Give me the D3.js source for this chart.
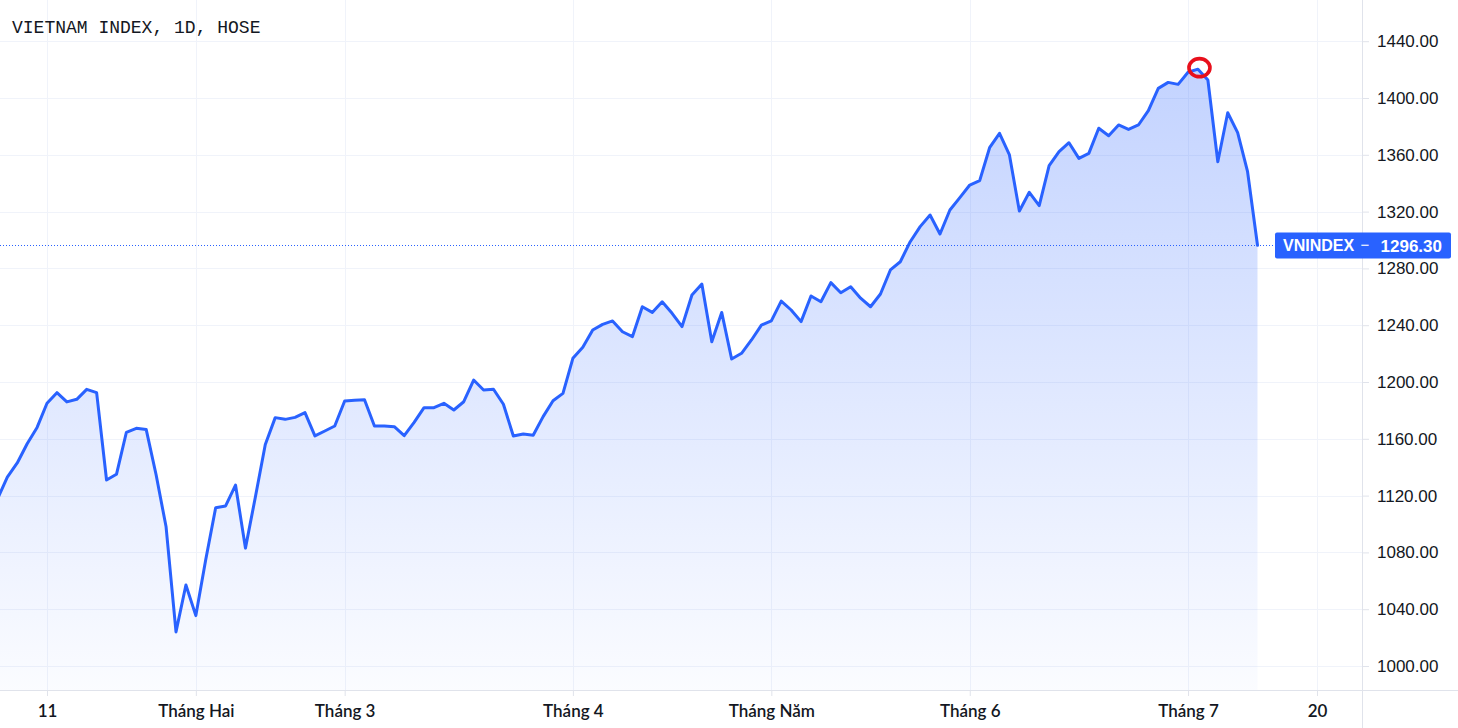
<!DOCTYPE html>
<html>
<head>
<meta charset="utf-8">
<script src="https://cdn.jsdelivr.net/npm/d3@7/dist/d3.min.js"></script>
<style>
  html, body { margin: 0; padding: 0; background: #ffffff; }
  svg { display: block; }
</style>
</head>
<body>
<svg id="chart" width="1458" height="728"></svg>
<script>
// ---- data (VN-Index daily close, 2021) ----
const dates = [
  "2021-01-04","2021-01-05","2021-01-06","2021-01-07","2021-01-08",
  "2021-01-11","2021-01-12","2021-01-13","2021-01-14","2021-01-15",
  "2021-01-18","2021-01-19","2021-01-20","2021-01-21","2021-01-22",
  "2021-01-25","2021-01-26","2021-01-27","2021-01-28","2021-01-29",
  "2021-02-01","2021-02-02","2021-02-03","2021-02-04","2021-02-05",
  "2021-02-08","2021-02-09","2021-02-17","2021-02-18","2021-02-19",
  "2021-02-22","2021-02-23","2021-02-24","2021-02-25","2021-02-26",
  "2021-03-01","2021-03-02","2021-03-03","2021-03-04","2021-03-05",
  "2021-03-08","2021-03-09","2021-03-10","2021-03-11","2021-03-12",
  "2021-03-15","2021-03-16","2021-03-17","2021-03-18","2021-03-19",
  "2021-03-22","2021-03-23","2021-03-24","2021-03-25","2021-03-26",
  "2021-03-29","2021-03-30","2021-03-31",
  "2021-04-01","2021-04-02","2021-04-05","2021-04-06","2021-04-07",
  "2021-04-08","2021-04-09","2021-04-12","2021-04-13","2021-04-14",
  "2021-04-15","2021-04-16","2021-04-19","2021-04-20","2021-04-22",
  "2021-04-23","2021-04-26","2021-04-27","2021-04-28","2021-04-29",
  "2021-05-04","2021-05-05","2021-05-06","2021-05-07","2021-05-10",
  "2021-05-11","2021-05-12","2021-05-13","2021-05-14","2021-05-17",
  "2021-05-18","2021-05-19","2021-05-20","2021-05-21","2021-05-24",
  "2021-05-25","2021-05-26","2021-05-27","2021-05-28","2021-05-31",
  "2021-06-01","2021-06-02","2021-06-03","2021-06-04","2021-06-07",
  "2021-06-08","2021-06-09","2021-06-10","2021-06-11","2021-06-14",
  "2021-06-15","2021-06-16","2021-06-17","2021-06-18","2021-06-21",
  "2021-06-22","2021-06-23","2021-06-24","2021-06-25","2021-06-28",
  "2021-06-29","2021-06-30",
  "2021-07-01","2021-07-02","2021-07-05","2021-07-06","2021-07-07",
  "2021-07-08","2021-07-09","2021-07-12"
];
const closes = [
  1117.5,1133.0,1143.0,1156.5,1168.0,
  1185.0,1192.5,1186.0,1187.8,1194.8,
  1192.5,1131.0,1135.0,1164.6,1167.4,
  1166.5,1134.5,1098.0,1024.0,1057.0,
  1035.5,1075.0,1111.5,1112.7,1127.4,
  1083.0,1119.0,1156.0,1174.9,1173.7,
  1175.1,1178.4,1162.0,1165.5,1169.0,
  1186.6,1187.1,1187.5,1169.0,1169.0,
  1168.5,1162.2,1171.6,1181.9,1181.9,
  1185.0,1180.3,1186.1,1201.4,1194.4,
  1194.9,1184.3,1162.0,1163.4,1162.5,
  1175.6,1186.8,1192.0,
  1216.7,1224.4,1236.6,1240.6,1243.0,
  1235.4,1231.9,1253.0,1249.0,1256.5,
  1248.4,1239.0,1261.3,1269.0,1228.4,
  1249.0,1216.2,1220.2,1229.6,1240.1,
  1243.0,1257.0,1250.7,1242.5,1260.6,
  1256.5,1270.0,1262.9,1267.1,1259.0,
  1253.0,1262.0,1278.9,1284.7,1298.8,
  1309.4,1317.6,1304.2,1321.1,1329.8,
  1338.7,1341.8,1365.0,1375.1,1359.9,
  1320.4,1333.6,1324.2,1352.3,1362.2,
  1368.5,1357.5,1361.0,1378.7,1373.4,
  1381.0,1377.9,1381.0,1391.1,1406.8,
  1411.0,1409.6,
  1418.1,1420.3,1412.7,1355.1,1389.6,
  1375.6,1348.1,1296.3
];
const xTickIndex  = [5, 20, 35, 58, 78, 98, 120, 133];
const xTickLabels = ["11", "Tháng Hai", "Tháng 3", "Tháng 4", "Tháng Năm", "Tháng 6", "Tháng 7", "20"];
const yTicks = [1000, 1040, 1080, 1120, 1160, 1200, 1240, 1280, 1320, 1360, 1400, 1440];
const title = "VIETNAM INDEX, 1D, HOSE";
const symbol = "VNINDEX";
const lastValue = closes[closes.length - 1];
const markedIndex = 121; // peak circled in red

// ---- layout ----
const W = 1458, H = 728;
const plotRight = 1362, plotBottom = 690;
const stepPx = 9.922;
const x0 = -2.6;

const svg = d3.select("#chart");
const x = d3.scaleLinear().domain([0, 1]).range([x0, x0 + stepPx]);
const y = d3.scaleLinear().domain([1000, 1440]).range([666, 41.2]);

const data = closes.map((v, i) => ({ i, date: dates[i], v }));

const defs = svg.append("defs");
defs.append("clipPath").attr("id", "plotClip")
  .append("rect").attr("x", 0).attr("y", 0).attr("width", plotRight).attr("height", plotBottom);
const grad = defs.append("linearGradient").attr("id", "areaGrad")
  .attr("gradientUnits", "userSpaceOnUse")
  .attr("x1", 0).attr("x2", 0)
  .attr("y1", y(d3.max(closes))).attr("y2", plotBottom);
grad.append("stop").attr("offset", "0%").attr("stop-color", "#2962ff").attr("stop-opacity", 0.28);
grad.append("stop").attr("offset", "100%").attr("stop-color", "#2962ff").attr("stop-opacity", 0.02);

// background
svg.append("rect").attr("width", W).attr("height", H).attr("fill", "#ffffff");

// grid
const grid = svg.append("g").attr("clip-path", "url(#plotClip)");
grid.selectAll("line.h").data(yTicks).join("line")
  .attr("x1", 0).attr("x2", plotRight)
  .attr("y1", d => Math.round(y(d)) + 0.5).attr("y2", d => Math.round(y(d)) + 0.5)
  .attr("stroke", "#f0f3fa").attr("stroke-width", 1);
grid.selectAll("line.v").data(xTickIndex).join("line")
  .attr("x1", d => Math.round(x(d)) + 0.5).attr("x2", d => Math.round(x(d)) + 0.5)
  .attr("y1", 0).attr("y2", plotBottom)
  .attr("stroke", "#f0f3fa").attr("stroke-width", 1);

// area + line
const plot = svg.append("g").attr("clip-path", "url(#plotClip)");
plot.append("path").datum(data)
  .attr("d", d3.area().x(d => x(d.i)).y0(plotBottom).y1(d => y(d.v)))
  .attr("fill", "url(#areaGrad)");
plot.append("path").datum(data)
  .attr("d", d3.line().x(d => x(d.i)).y(d => y(d.v)))
  .attr("fill", "none").attr("stroke", "#2962ff").attr("stroke-width", 3)
  .attr("stroke-linejoin", "round").attr("stroke-linecap", "round");

// last price dotted line
const lastY = Math.round(y(lastValue)) + 0.5;
svg.append("line")
  .attr("x1", 0).attr("x2", 1276).attr("y1", lastY).attr("y2", lastY)
  .attr("stroke", "#2962ff").attr("stroke-width", 1).attr("stroke-dasharray", "1,2");

// red circle at the peak
const pk = data[markedIndex];
svg.append("ellipse")
  .attr("cx", x(pk.i) + 1.5).attr("cy", y(pk.v) - 1.5)
  .attr("rx", 10.5).attr("ry", 9)
  .attr("fill", "none").attr("stroke", "#e8101c").attr("stroke-width", 3.6);

// axes borders
svg.append("line").attr("x1", plotRight + 0.5).attr("x2", plotRight + 0.5)
  .attr("y1", 0).attr("y2", H).attr("stroke", "#e0e3eb");
svg.append("line").attr("x1", 0).attr("x2", W)
  .attr("y1", plotBottom + 0.5).attr("y2", plotBottom + 0.5).attr("stroke", "#e0e3eb");

// y axis
const yAxis = d3.axisRight(y).tickValues(yTicks).tickSize(7).tickPadding(8)
  .tickFormat(d3.format(".2f"));
const yg = svg.append("g").attr("transform", `translate(${plotRight},0)`).call(yAxis);
yg.select(".domain").remove();
yg.selectAll(".tick line").attr("stroke", "#e0e3eb");
yg.selectAll(".tick text")
  .attr("fill", "#131722")
  .attr("font-family", "'Liberation Sans', Arial, sans-serif")
  .attr("font-size", 17);

// x axis
const xAxis = d3.axisBottom(x).tickValues(xTickIndex).tickSize(6).tickPadding(9)
  .tickFormat((d, i) => xTickLabels[i]);
const xg = svg.append("g").attr("transform", `translate(0,${plotBottom})`).call(xAxis);
xg.select(".domain").remove();
xg.selectAll(".tick line").attr("stroke", "#e0e3eb");
xg.selectAll(".tick text")
  .attr("fill", "#131722")
  .attr("font-family", "Lato, 'Liberation Sans', sans-serif")
  .attr("font-weight", 600)
  .attr("font-size", 17);

// last value label
const lbl = svg.append("g");
lbl.append("rect")
  .attr("x", 1275).attr("y", lastY - 13).attr("width", 176).attr("height", 26)
  .attr("rx", 2).attr("fill", "#2962ff");
lbl.append("text").attr("x", 1283).attr("y", lastY).attr("dy", "0.36em")
  .attr("fill", "#ffffff").attr("font-family", "'Liberation Sans', Arial, sans-serif")
  .attr("font-weight", 700).attr("font-size", 16).text(symbol);
lbl.append("text").attr("x", 1365).attr("y", lastY).attr("dy", "0.33em")
  .attr("text-anchor", "middle")
  .attr("fill", "#ffffff").attr("font-family", "'Liberation Sans', Arial, sans-serif")
  .attr("font-size", 15).text("\u2212");
lbl.append("text").attr("x", 1442).attr("y", lastY).attr("dy", "0.36em")
  .attr("text-anchor", "end")
  .attr("fill", "#ffffff").attr("font-family", "'Liberation Sans', Arial, sans-serif")
  .attr("font-weight", 700).attr("font-size", 17).text(d3.format(".2f")(lastValue));

// title
svg.append("text").attr("x", 12).attr("y", 33)
  .attr("fill", "#131722")
  .attr("font-family", "'Liberation Mono', 'DejaVu Sans Mono', monospace")
  .attr("font-size", 18).text(title);
</script>
</body>
</html>
